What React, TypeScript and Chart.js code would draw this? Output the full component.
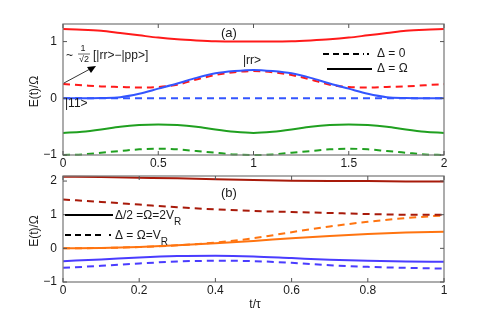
import React, { useEffect, useRef } from "react";
import { Chart, registerables } from "chart.js";
Chart.register(...registerables);

// ---------- Panel (a) data ----------
const xA = [0, 0.1, 0.2, 0.3, 0.4, 0.5, 0.6, 0.7, 0.8, 0.9, 1.0, 1.1, 1.2, 1.3, 1.4, 1.5, 1.6, 1.7, 1.8, 1.9, 2.0];
const redSolidA = [1.22, 1.21, 1.19, 1.15, 1.11, 1.07, 1.04, 1.02, 1.005, 1.0, 1.0, 1.0, 1.005, 1.02, 1.04, 1.07, 1.11, 1.15, 1.19, 1.21, 1.22];
const redDashA = [0.25, 0.23, 0.21, 0.2, 0.19, 0.2, 0.24, 0.33, 0.41, 0.46, 0.48, 0.46, 0.41, 0.33, 0.24, 0.2, 0.19, 0.2, 0.21, 0.23, 0.25];
const blueSolidA = [0, 0, 0.005, 0.02, 0.08, 0.17, 0.26, 0.36, 0.44, 0.48, 0.5, 0.48, 0.44, 0.36, 0.26, 0.17, 0.08, 0.02, 0.005, 0, 0];
const blueDashA = [0, 0, 0, 0, 0, 0, 0, 0, 0, 0, 0, 0, 0, 0, 0, 0, 0, 0, 0, 0, 0];
const greenSolidA = [-0.61, -0.59, -0.55, -0.5, -0.47, -0.46, -0.47, -0.5, -0.55, -0.59, -0.61, -0.59, -0.55, -0.5, -0.47, -0.46, -0.47, -0.5, -0.55, -0.59, -0.61];
const greenDashA = [-1.0, -0.99, -0.96, -0.93, -0.9, -0.89, -0.9, -0.93, -0.96, -0.99, -1.0, -0.99, -0.96, -0.93, -0.9, -0.89, -0.9, -0.93, -0.96, -0.99, -1.0];
const xTicksA = [0, 0.5, 1, 1.5, 2];
const xTickLabelsA = ["0", "0.5", "1", "1.5", "2"];
const yTicksA = [-1, 0, 1];
const yTickLabelsA = ["\u22121", "0", "1"];

// ---------- Panel (b) data ----------
const xB = [0, 0.1, 0.2, 0.3, 0.4, 0.5, 0.6, 0.7, 0.8, 0.9, 1.0];
const darkRedSolidB = [2.13, 2.12, 2.1, 2.08, 2.05, 2.03, 2.01, 2.0, 2.0, 1.99, 1.99];
const darkRedDashB = [1.45, 1.38, 1.3, 1.22, 1.16, 1.11, 1.08, 1.05, 1.02, 1.0, 1.0];
const orangeSolidB = [0, 0.01, 0.04, 0.09, 0.15, 0.22, 0.3, 0.37, 0.43, 0.47, 0.49];
const orangeDashB = [0, 0.01, 0.04, 0.09, 0.17, 0.3, 0.48, 0.65, 0.79, 0.9, 0.98];
const blueSolidB = [-0.38, -0.33, -0.27, -0.23, -0.22, -0.24, -0.29, -0.34, -0.37, -0.39, -0.4];
const blueDashB = [-0.58, -0.52, -0.45, -0.39, -0.37, -0.38, -0.43, -0.5, -0.55, -0.58, -0.6];
const xTicksB = [0, 0.2, 0.4, 0.6, 0.8, 1];
const xTickLabelsB = ["0", "0.2", "0.4", "0.6", "0.8", "1"];
const yTicksB = [-1, 0, 1, 2];
const yTickLabelsB = ["\u22121", "0", "1", "2"];

const FONT = "'Liberation Sans', Arial, sans-serif";
const DASH = [7, 5];

function pts(xs: number[], ys: number[]) {
  return xs.map((x, i) => ({ x, y: ys[i] }));
}

function ds(xs: number[], ys: number[], color: string, dashed: boolean) {
  return {
    data: pts(xs, ys),
    borderColor: color,
    borderWidth: 2,
    borderDash: dashed ? DASH : [],
    pointRadius: 0,
    tension: 0.4,
    cubicInterpolationMode: "monotone" as const,
    fill: false,
    clip: 4,
  };
}

function framePlugin(
  id: string,
  xTicks: number[],
  xLabels: string[],
  yTicks: number[],
  yLabels: string[],
  extra: (ctx: CanvasRenderingContext2D) => void
) {
  return {
    id,
    afterDraw(chart: any) {
      const { ctx, chartArea: a, scales } = chart;
      const xs = scales.x;
      const ys = scales.y;
      ctx.save();
      ctx.strokeStyle = "#808080";
      ctx.lineWidth = 1.3;
      ctx.strokeRect(a.left, a.top, a.right - a.left, a.bottom - a.top);
      ctx.lineWidth = 1;
      ctx.strokeStyle = "#555";
      xTicks.forEach((v) => {
        const p = xs.getPixelForValue(v);
        ctx.beginPath();
        ctx.moveTo(p, a.bottom);
        ctx.lineTo(p, a.bottom - 4);
        ctx.moveTo(p, a.top);
        ctx.lineTo(p, a.top + 4);
        ctx.stroke();
      });
      yTicks.forEach((v) => {
        const p = ys.getPixelForValue(v);
        ctx.beginPath();
        ctx.moveTo(a.left, p);
        ctx.lineTo(a.left + 4, p);
        ctx.moveTo(a.right, p);
        ctx.lineTo(a.right - 4, p);
        ctx.stroke();
      });
      ctx.fillStyle = "#1a1a1a";
      ctx.font = `12px ${FONT}`;
      ctx.textAlign = "center";
      ctx.textBaseline = "top";
      xTicks.forEach((v, i) => {
        ctx.fillText(xLabels[i], xs.getPixelForValue(v), a.bottom + 3);
      });
      ctx.textAlign = "right";
      ctx.textBaseline = "middle";
      yTicks.forEach((v, i) => {
        ctx.fillText(yLabels[i], a.left - 6, ys.getPixelForValue(v));
      });
      // y title
      ctx.save();
      ctx.translate(35, (a.top + a.bottom) / 2 + 2);
      ctx.rotate(-Math.PI / 2);
      ctx.textAlign = "center";
      ctx.textBaseline = "middle";
      ctx.fillText("E(t)/\u03A9", 0, 0);
      ctx.restore();
      extra(ctx);
      ctx.restore();
    },
  };
}

function line(ctx: CanvasRenderingContext2D, x1: number, y: number, x2: number, dashed: boolean) {
  ctx.save();
  ctx.strokeStyle = "#000";
  ctx.lineWidth = 2;
  ctx.setLineDash(dashed ? [6, 4] : []);
  ctx.beginPath();
  ctx.moveTo(x1, y);
  ctx.lineTo(x2, y);
  ctx.stroke();
  ctx.restore();
}

function extraA(ctx: CanvasRenderingContext2D) {
  ctx.fillStyle = "#1a1a1a";
  ctx.textBaseline = "middle";
  ctx.textAlign = "left";
  ctx.font = `13px ${FONT}`;
  ctx.fillText("(a)", 221, 33);
  ctx.font = `12px ${FONT}`;
  ctx.fillText("|rr>", 243, 61);
  ctx.fillText("|11>", 65, 104);
  // fraction annotation
  ctx.fillText("~", 66, 56);
  ctx.font = `9px ${FONT}`;
  ctx.textAlign = "center";
  ctx.fillText("1", 83, 49);
  ctx.fillText("\u221A2", 84, 60);
  ctx.strokeStyle = "#444";
  ctx.lineWidth = 0.8;
  ctx.beginPath();
  ctx.moveTo(78, 54);
  ctx.lineTo(90, 54);
  ctx.stroke();
  ctx.font = `12px ${FONT}`;
  ctx.textAlign = "left";
  ctx.fillText("[|rr>\u2212|pp>]", 93, 56);
  // arrow
  ctx.strokeStyle = "#000";
  ctx.lineWidth = 0.8;
  ctx.beginPath();
  ctx.moveTo(64, 83);
  ctx.lineTo(90, 69);
  ctx.stroke();
  ctx.fillStyle = "#000";
  ctx.beginPath();
  ctx.moveTo(96, 66);
  ctx.lineTo(87, 67);
  ctx.lineTo(91, 73);
  ctx.closePath();
  ctx.fill();
  // legend
  line(ctx, 323, 54, 364, true);
  ctx.fillRect(367, 53, 2, 2);
  line(ctx, 327, 69, 372, false);
  ctx.fillStyle = "#1a1a1a";
  ctx.font = `12px ${FONT}`;
  ctx.fillText("\u0394 = 0", 377, 54);
  ctx.fillText("\u0394 = \u03A9", 377, 69);
}

function extraB(ctx: CanvasRenderingContext2D) {
  ctx.fillStyle = "#1a1a1a";
  ctx.textBaseline = "middle";
  ctx.textAlign = "left";
  ctx.font = `13px ${FONT}`;
  ctx.fillText("(b)", 221, 193);
  line(ctx, 65, 215, 113, false);
  line(ctx, 65, 235, 104, true);
  ctx.fillStyle = "#000";
  ctx.fillRect(109, 234, 2, 2);
  ctx.fillStyle = "#1a1a1a";
  ctx.font = `12px ${FONT}`;
  const t1 = "\u0394/2 =\u03A9=2V";
  ctx.fillText(t1, 115, 216);
  const w1 = ctx.measureText(t1).width;
  const t2 = "\u0394 = \u03A9=V";
  ctx.fillText(t2, 115, 236);
  const w2 = ctx.measureText(t2).width;
  ctx.font = `10px ${FONT}`;
  ctx.fillText("R", 115 + w1, 222);
  ctx.fillText("R", 115 + w2, 242);
  ctx.font = `12px ${FONT}`;
  ctx.textAlign = "center";
  ctx.fillText("t/\u03C4", 255, 305);
}

export default function App() {
  const refA = useRef<HTMLCanvasElement>(null);
  const refB = useRef<HTMLCanvasElement>(null);

  useEffect(() => {
    const common = (min: number, max: number, ymin: number, ymax: number) => ({
      responsive: false,
      animation: false as const,
      events: [] as any[],
      plugins: { legend: { display: false }, tooltip: { enabled: false } },
      scales: {
        x: { type: "linear" as const, min, max, display: false },
        y: { type: "linear" as const, min: ymin, max: ymax, display: false },
      },
    });

    const chartA = new Chart(refA.current!, {
      type: "line",
      data: {
        datasets: [
          ds(xA, redSolidA, "#ff1a1a", false),
          ds(xA, greenSolidA, "#20a020", false),
          ds(xA, greenDashA, "#20a020", true),
          ds(xA, blueDashA, "#3355ff", true),
          ds(xA, blueSolidA, "#3355ff", false),
          ds(xA, redDashA, "#ff1a1a", true),
        ],
      },
      options: {
        ...common(0, 2, -1, 1.31),
        layout: { padding: { left: 63, right: 47, top: 24, bottom: 162 } },
      },
      plugins: [framePlugin("frameA", xTicksA, xTickLabelsA, yTicksA, yTickLabelsA, extraA)],
    });

    const chartB = new Chart(refB.current!, {
      type: "line",
      data: {
        datasets: [
          ds(xB, darkRedSolidB, "#a81a0a", false),
          ds(xB, darkRedDashB, "#a81a0a", true),
          ds(xB, orangeDashB, "#ff7410", true),
          ds(xB, orangeSolidB, "#ff7410", false),
          ds(xB, blueSolidB, "#4a3cff", false),
          ds(xB, blueDashB, "#4a3cff", true),
        ],
      },
      options: {
        ...common(0, 1, -1, 2.15),
        layout: { padding: { left: 63, right: 47, top: 176, bottom: 35 } },
      },
      plugins: [framePlugin("frameB", xTicksB, xTickLabelsB, yTicksB, yTickLabelsB, extraB)],
    });

    return () => {
      chartA.destroy();
      chartB.destroy();
    };
  }, []);

  return (
    <div style={{ position: "fixed", left: 0, top: 0, width: 491, height: 317, background: "#fff" }}>
      <canvas ref={refA} width={491} height={317} style={{ position: "absolute", left: 0, top: 0 }} />
      <canvas ref={refB} width={491} height={317} style={{ position: "absolute", left: 0, top: 0 }} />
    </div>
  );
}
